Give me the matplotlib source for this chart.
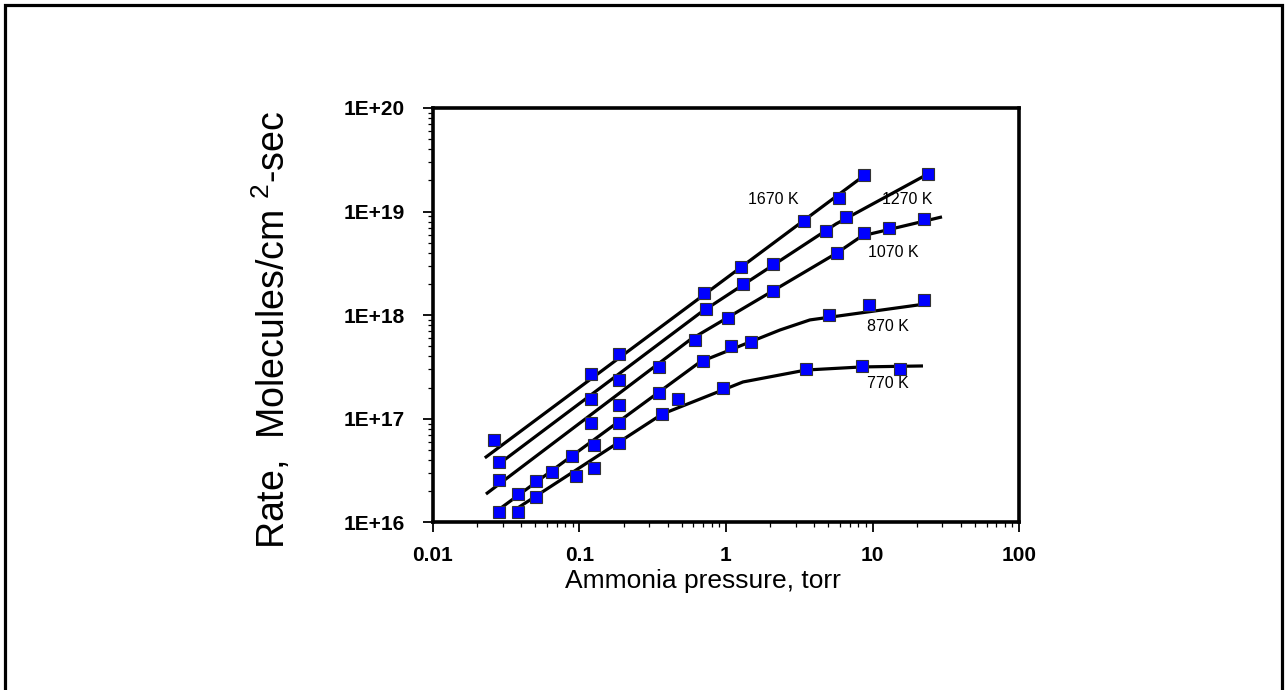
import numpy as np
import matplotlib.pyplot as plt
from matplotlib.patches import Rectangle
from matplotlib.ticker import LogLocator, FixedLocator, FixedFormatter, NullFormatter

plt.rcParams['font.family'] = ['Liberation Sans', 'DejaVu Sans']
plt.rcParams['mathtext.fontset'] = 'custom'
plt.rcParams['mathtext.rm'] = 'Liberation Sans'
plt.rcParams['mathtext.default'] = 'regular'

# measured points: ammonia pressure (torr) and rate (molecules/cm2-sec)
p_1670 = [0.0261, 0.120, 0.186, 0.708, 1.265, 3.41, 5.91, 8.75]
r_1670 = [6.25e16, 2.71e17, 4.23e17, 1.64e18, 2.93e18, 8.13e18, 1.36e19, 2.26e19]

p_1270 = [0.0282, 0.120, 0.186, 0.730, 1.306, 2.09, 4.82, 6.59, 23.9]
r_1270 = [3.84e16, 1.56e17, 2.37e17, 1.15e18, 2.01e18, 3.13e18, 6.51e18, 8.89e18, 2.31e19]

p_1070 = [0.0282, 0.120, 0.186, 0.349, 0.614, 1.03, 2.09, 5.72, 8.75, 12.97, 22.5]
r_1070 = [2.57e16, 9.13e16, 1.36e17, 3.17e17, 5.78e17, 9.42e17, 1.72e18, 3.99e18, 6.23e18, 6.96e18, 8.50e18]

p_870 = [0.0282, 0.0380, 0.0505, 0.0649, 0.0889, 0.126, 0.186, 0.349, 0.697, 1.08, 1.48, 5.05, 9.46, 22.5]
r_870 = [1.26e16, 1.88e16, 2.52e16, 3.07e16, 4.38e16, 5.60e16, 9.13e16, 1.78e17, 3.62e17, 5.05e17, 5.53e17, 1.01e18, 1.26e18, 1.41e18]

p_770 = [0.0380, 0.0505, 0.0946, 0.126, 0.186, 0.366, 0.470, 0.955, 3.52, 8.48, 15.4]
r_770 = [1.26e16, 1.76e16, 2.81e16, 3.36e16, 5.85e16, 1.11e17, 1.56e17, 1.99e17, 3.03e17, 3.24e17, 3.03e17]

# model curves
fit_p_1670 = [0.0226, 8.89]
fit_r_1670 = [4.2e16, 2.26e19]
fit_p_1270 = [0.0282, 0.665, 5.64, 23.9]
fit_r_1270 = [3.67e16, 1.05e18, 7.61e18, 2.31e19]
fit_p_1070 = [0.0230, 0.567, 5.72, 8.48, 29.8]
fit_r_1070 = [1.88e16, 5.78e17, 3.99e18, 5.83e18, 8.89e18]
fit_p_870 = [0.0291, 0.665, 2.34, 3.74, 23.5]
fit_r_870 = [1.38e16, 3.54e17, 7.21e17, 9.01e17, 1.29e18]
fit_p_770 = [0.0352, 0.366, 1.306, 3.52, 8.48, 22.1]
fit_r_770 = [1.29e16, 1.11e17, 2.27e17, 2.96e17, 3.17e17, 3.24e17]

labels = ['1670 K', '1270 K', '1070 K', '870 K', '770 K']
label_p = [2.09, 17.2, 13.8, 12.8, 12.8]
label_r = [1.30e19, 1.30e19, 3.99e18, 7.71e17, 2.17e17]

fig = plt.figure(figsize=(12.87, 6.9), dpi=100)
ax = fig.add_axes([0.3364, 0.2428, 0.4554, 0.6007])

fits = [(fit_p_1670, fit_r_1670), (fit_p_1270, fit_r_1270), (fit_p_1070, fit_r_1070),
        (fit_p_870, fit_r_870), (fit_p_770, fit_r_770)]
for fp, fr in fits:
    ax.plot(fp, fr, color='black', lw=2.3, solid_capstyle='butt', zorder=2)

pts = [(p_1670, r_1670), (p_1270, r_1270), (p_1070, r_1070), (p_870, r_870), (p_770, r_770)]
for pp, rr in pts:
    ax.plot(pp, rr, ls='none', marker='s', ms=9, mfc='#0000ff', mec='#333333', mew=0.8, zorder=3)

for t, x, y in zip(labels, label_p, label_r):
    ax.text(x, y, t, fontsize=11.5, ha='center', va='center')

ax.set_xscale('log')
ax.set_yscale('log')
ax.set_xlim(0.01, 100)
ax.set_ylim(1e16, 1e20)

xt = [0.01, 0.1, 1, 10, 100]
ax.xaxis.set_major_locator(FixedLocator(xt))
ax.xaxis.set_major_formatter(FixedFormatter(['0.01', '0.1', '1', '10', '100']))
ax.xaxis.set_minor_locator(LogLocator(base=10, subs=np.arange(2, 10)))
ax.xaxis.set_minor_formatter(NullFormatter())
yt = [1e16, 1e17, 1e18, 1e19, 1e20]
ax.yaxis.set_major_locator(FixedLocator(yt))
ax.yaxis.set_major_formatter(FixedFormatter(['1E+16', '1E+17', '1E+18', '1E+19', '1E+20']))
ax.yaxis.set_minor_locator(LogLocator(base=10, subs=np.arange(2, 10)))
ax.yaxis.set_minor_formatter(NullFormatter())

for s in ax.spines.values():
    s.set_linewidth(2.6)
ax.tick_params(which='major', direction='out', length=7, width=1.3, labelsize=15, top=False, right=False)
ax.tick_params(which='minor', direction='out', length=3.5, width=0.9, top=False, right=False)
ax.tick_params(axis='y', which='major', pad=13)
ax.tick_params(axis='x', which='major', pad=10)
for lab in ax.get_xticklabels() + ax.get_yticklabels():
    lab.set_fontweight('bold')

ax.set_xlabel('Ammonia pressure, torr', fontsize=19, va='center')
ax.xaxis.set_label_coords(0.461, -0.141)
ax.set_ylabel('Rate,  Molecules/cm $^{2}$-sec', fontsize=27, va='center')
ax.yaxis.set_label_coords(-0.275, 0.464)

# outer frame
fig.patches.append(Rectangle((5 / 1287, -0.02), 1277 / 1287, 1.02 - 5 / 690,
                             transform=fig.transFigure, fill=False, lw=2.3, ec='black'))

fig.savefig('out.png', dpi=100)
